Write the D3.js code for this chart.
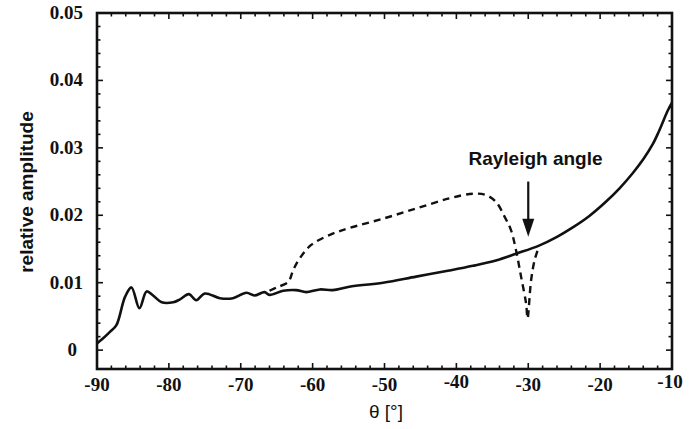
<!DOCTYPE html>
<html>
<head>
<meta charset="utf-8">
<script src="https://cdn.jsdelivr.net/npm/d3@7"></script>
<style>
  html, body { margin: 0; padding: 0; background: #fff; }
  svg { display: block; }
  .tick-label { font-family: "Liberation Serif", serif; font-weight: bold; font-size: 19px; fill: #111; }
  .axis-title { font-family: "Liberation Sans", Arial, sans-serif; font-size: 19px; fill: #111; }
</style>
</head>
<body>
<svg id="chart" width="695" height="429"></svg>
<script>
// solid curve: relative amplitude vs angle
const solidTheta = [-90, -89.3, -88.2, -87.3, -86.1, -85.2, -84.1, -83.1, -82.2, -81.0, -79.4, -78.5, -77.2, -76.2, -75.0, -72.9, -71.1, -69.2, -68.1, -66.7, -66.0, -64.1, -62.3, -60.9, -59.0, -57.2, -54.9, -50.2, -45.6, -41.0, -37.7, -34.5, -31.7, -28.5, -26.0, -23.8, -21.5, -19.2, -17.3, -15.5, -14.0, -12.7, -11.8, -10.6, -10];
const solidAmp = [0.001, 0.0016, 0.0027, 0.0037, 0.0079, 0.0093, 0.0062, 0.0087, 0.0081, 0.0071, 0.0071, 0.0075, 0.0083, 0.0074, 0.0084, 0.0077, 0.0077, 0.0085, 0.0081, 0.0086, 0.0082, 0.0088, 0.0089, 0.0086, 0.009, 0.0089, 0.0094, 0.01, 0.0109, 0.0118, 0.0125, 0.0133, 0.0143, 0.0155, 0.0168, 0.0182, 0.0199, 0.022, 0.024, 0.0262, 0.0283, 0.0305, 0.0325, 0.0355, 0.0367];

// dashed curve
const dashTheta = [-66.0, -65.0, -63.4, -62.7, -61.8, -60.2, -57.6, -54.9, -50.2, -45.6, -41.0, -37.7, -35.9, -34.5, -33.3, -32.4, -31.7, -31.0, -30.3, -30.1, -29.6, -29.1, -28.5];
const dashAmp = [0.0088, 0.0093, 0.0101, 0.0119, 0.0136, 0.0156, 0.0171, 0.0181, 0.0195, 0.021, 0.0225, 0.0232, 0.023, 0.022, 0.0198, 0.0178, 0.0148, 0.0109, 0.0069, 0.0047, 0.0104, 0.0134, 0.0154];

const xTicks = [-90, -80, -70, -60, -50, -40, -30, -20, -10];
const yTicks = [0, 0.01, 0.02, 0.03, 0.04, 0.05];
const yTickLabels = ["0", "0.01", "0.02", "0.03", "0.04", "0.05"];

const annotation = { text: "Rayleigh angle", theta: -30, arrowTop: 0.025, arrowTip: 0.0168 };

(function drawChart() {
  const svg = d3.select("#chart");
  const frame = { left: 97, right: 672, top: 13, bottom: 369 };

  const x = d3.scaleLinear().domain([-90, -10]).range([frame.left, frame.right]);
  const y = d3.scaleLinear().domain([-0.0028, 0.05]).range([frame.bottom, frame.top]);

  const ink = "#111";

  // ticks (inward, all four sides)
  const ticksG = svg.append("g").attr("stroke", ink).attr("stroke-width", 1.6);
  const xMinor = d3.range(-90, -9, 2);
  const yMinor = d3.range(0, 0.0501, 0.002);
  xMinor.forEach((v) => {
    const len = v % 10 === 0 ? 6 : 3.5;
    ticksG.append("line").attr("x1", x(v)).attr("x2", x(v)).attr("y1", frame.bottom).attr("y2", frame.bottom - len);
    ticksG.append("line").attr("x1", x(v)).attr("x2", x(v)).attr("y1", frame.top).attr("y2", frame.top + len);
  });
  yMinor.forEach((v, i) => {
    const len = i % 5 === 0 ? 6 : 3.5;
    ticksG.append("line").attr("x1", frame.left).attr("x2", frame.left + len).attr("y1", y(v)).attr("y2", y(v));
    ticksG.append("line").attr("x1", frame.right).attr("x2", frame.right - len).attr("y1", y(v)).attr("y2", y(v));
  });

  // frame
  svg.append("rect")
    .attr("x", frame.left).attr("y", frame.top)
    .attr("width", frame.right - frame.left).attr("height", frame.bottom - frame.top)
    .attr("fill", "none").attr("stroke", ink).attr("stroke-width", 2.6);

  // tick labels
  svg.append("g").selectAll("text").data(xTicks).join("text")
    .attr("class", "tick-label")
    .attr("x", (d) => x(d) + (d === -10 ? -2 : 0))
    .attr("y", (d) => (d === -10 || d === -40 ? 388 : 391))
    .attr("text-anchor", "middle")
    .text((d) => d);

  svg.append("g").selectAll("text").data(yTicks).join("text")
    .attr("class", "tick-label")
    .attr("x", (d) => (d === 0 ? 77 : 83))
    .attr("y", (d) => y(d) + 6)
    .attr("text-anchor", "end")
    .text((d, i) => yTickLabels[i]);

  // axis titles
  svg.append("text").attr("class", "axis-title")
    .attr("x", 386).attr("y", 418).attr("text-anchor", "middle")
    .text("θ [°]");

  svg.append("text").attr("class", "axis-title")
    .attr("font-weight", "bold")
    .attr("transform", "translate(33,192) rotate(-90)")
    .attr("text-anchor", "middle")
    .text("relative amplitude");

  // curves
  const line = d3.line()
    .x((d) => x(d[0]))
    .y((d) => y(d[1]))
    .curve(d3.curveCatmullRom.alpha(0.5));

  svg.append("path").datum(d3.zip(solidTheta, solidAmp))
    .attr("d", line)
    .attr("fill", "none").attr("stroke", ink).attr("stroke-width", 2.6)
    .attr("stroke-linejoin", "round");

  svg.append("path").datum(d3.zip(dashTheta, dashAmp))
    .attr("d", line)
    .attr("fill", "none").attr("stroke", ink).attr("stroke-width", 2.4)
    .attr("stroke-dasharray", "7,5");

  // annotation arrow
  const ax = x(annotation.theta);
  const yTop = y(annotation.arrowTop);
  const yTip = y(annotation.arrowTip);
  svg.append("line")
    .attr("x1", ax).attr("x2", ax).attr("y1", yTop).attr("y2", yTip - 10)
    .attr("stroke", ink).attr("stroke-width", 2.2);
  svg.append("path")
    .attr("d", `M${ax - 6},${yTip - 18} L${ax + 6},${yTip - 18} L${ax},${yTip} Z`)
    .attr("fill", ink);

  svg.append("text").attr("class", "axis-title")
    .attr("font-weight", "bold")
    .attr("x", 535.5).attr("y", 165).attr("text-anchor", "middle")
    .text(annotation.text);
})();
</script>
</body>
</html>
